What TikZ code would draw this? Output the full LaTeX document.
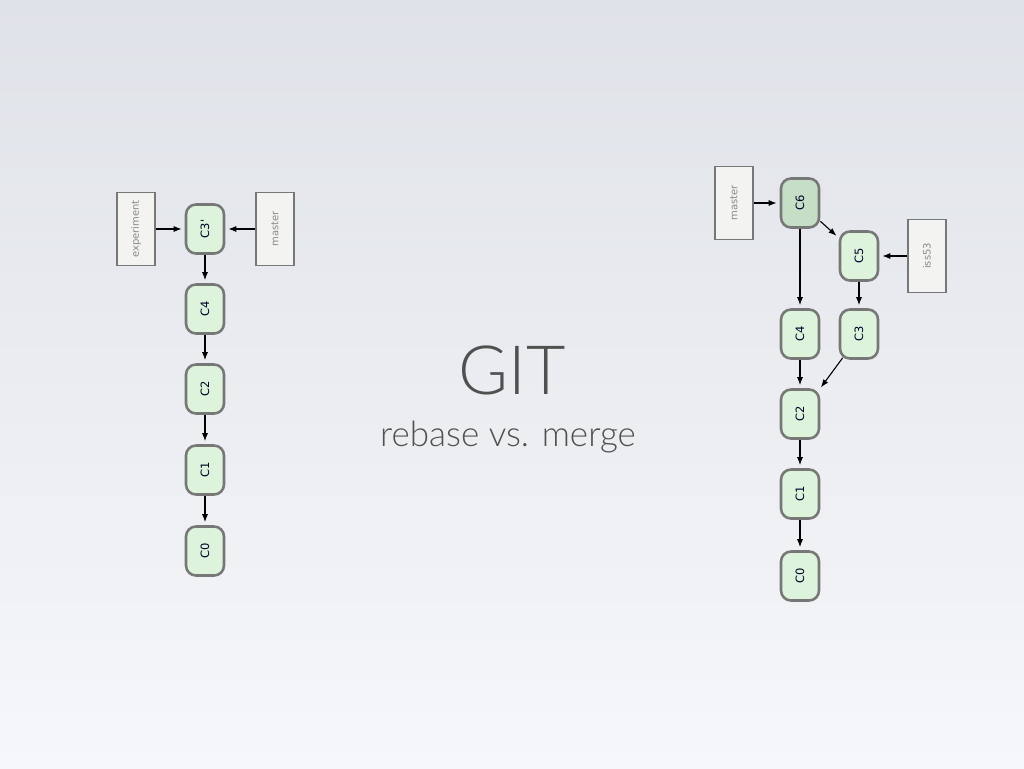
\documentclass[tikz,border=0pt]{standalone}
\usepackage{fontspec}
\setmainfont{Lato}
\newfontfamily\titlefont{Lato Light}
\newfontfamily\boxfont{DejaVu Sans}
\usetikzlibrary{arrows.meta}
\definecolor{bgtop}{HTML}{DFE2E8}
\definecolor{bgbottom}{HTML}{F6F7FA}
\definecolor{commitfill}{HTML}{DDF3DC}
\definecolor{headfill}{HTML}{C6DDC6}
\definecolor{boxline}{HTML}{777777}
\definecolor{reffill}{HTML}{F3F3F1}
\definecolor{reftext}{HTML}{8A8A8A}
\definecolor{titlegray}{HTML}{505050}
\newcommand\vtext[1]{\rotatebox{90}{#1}}
\tikzset{
        commit/.style={draw=boxline, line width=0.9mm, fill=commitfill, rounded corners=10pt,
          minimum width=38pt, minimum height=49pt, inner sep=0pt,
          font=\boxfont\fontsize{11.5}{11.5}\selectfont, text=black!85!blue},
        merged/.style={commit, fill=headfill},
        branch/.style={draw=boxline, line width=0.7mm, fill=reffill, minimum width=38pt,
          minimum height=73pt, inner sep=0pt, font=\boxfont\fontsize{10}{10}\selectfont, text=reftext},
        link/.style={line width=1.1pt, -{Latex[length=8pt,width=6pt]}, shorten >=3pt}
          }

\begin{document}
\begin{tikzpicture}[x=1pt, y=-1pt]
        \shade[top color=bgtop, bottom color=bgbottom] (0,0) rectangle (1024,768);
        % rebased history
        \node[commit] (l3) at (205,229) {\vtext{C3'}};
        \node[commit] (l4) at (205,309) {\vtext{C4}};
        \node[commit] (l2) at (205,389) {\vtext{C2}};
        \node[commit] (l1) at (205,470) {\vtext{C1}};
        \node[commit] (l0) at (205,551) {\vtext{C0}};
        \node[branch] (lexp) at (136,229) {\vtext{experiment}};
        \node[branch] (lmaster) at (275,229) {\vtext{master}};
        \draw[link] (lexp) -- (l3);
        \draw[link] (lmaster) -- (l3);
        \draw[link] (l3) -- (l4);
        \draw[link] (l4) -- (l2);
        \draw[link] (l2) -- (l1);
        \draw[link] (l1) -- (l0);
        % title
        \node[text=titlegray, font=\titlefont\fontsize{68}{68}\selectfont] (title) at (512,370) {GIT};
        \node[text=titlegray, font=\titlefont\fontsize{35}{35}\selectfont] (subtitle) at (508,437) {rebase vs. merge};
        % merged history
        \node[merged] (r6) at (800,203) {\vtext{C6}};
        \node[commit] (r5) at (859,256) {\vtext{C5}};
        \node[commit] (r4) at (800,334) {\vtext{C4}};
        \node[commit] (r3) at (859,334) {\vtext{C3}};
        \node[commit] (r2) at (800,414) {\vtext{C2}};
        \node[commit] (r1) at (800,494) {\vtext{C1}};
        \node[commit] (r0) at (800,576) {\vtext{C0}};
        \node[branch] (rmaster) at (734,203) {\vtext{master}};
        \node[branch] (riss) at (927,256) {\vtext{iss53}};
        \draw[link] (rmaster) -- (r6);
        \draw[link] (r6) -- (r5);
        \draw[link] (r6) -- (r4);
        \draw[link] (riss) -- (r5);
        \draw[link] (r5) -- (r3);
        \draw[link] (r4) -- (r2);
        \draw[link, shorten >=1pt] ([xshift=4pt,yshift=2pt]r3.south west) -- (r2.north east);
        \draw[link] (r2) -- (r1);
        \draw[link] (r1) -- (r0);
\end{tikzpicture}
\end{document}
